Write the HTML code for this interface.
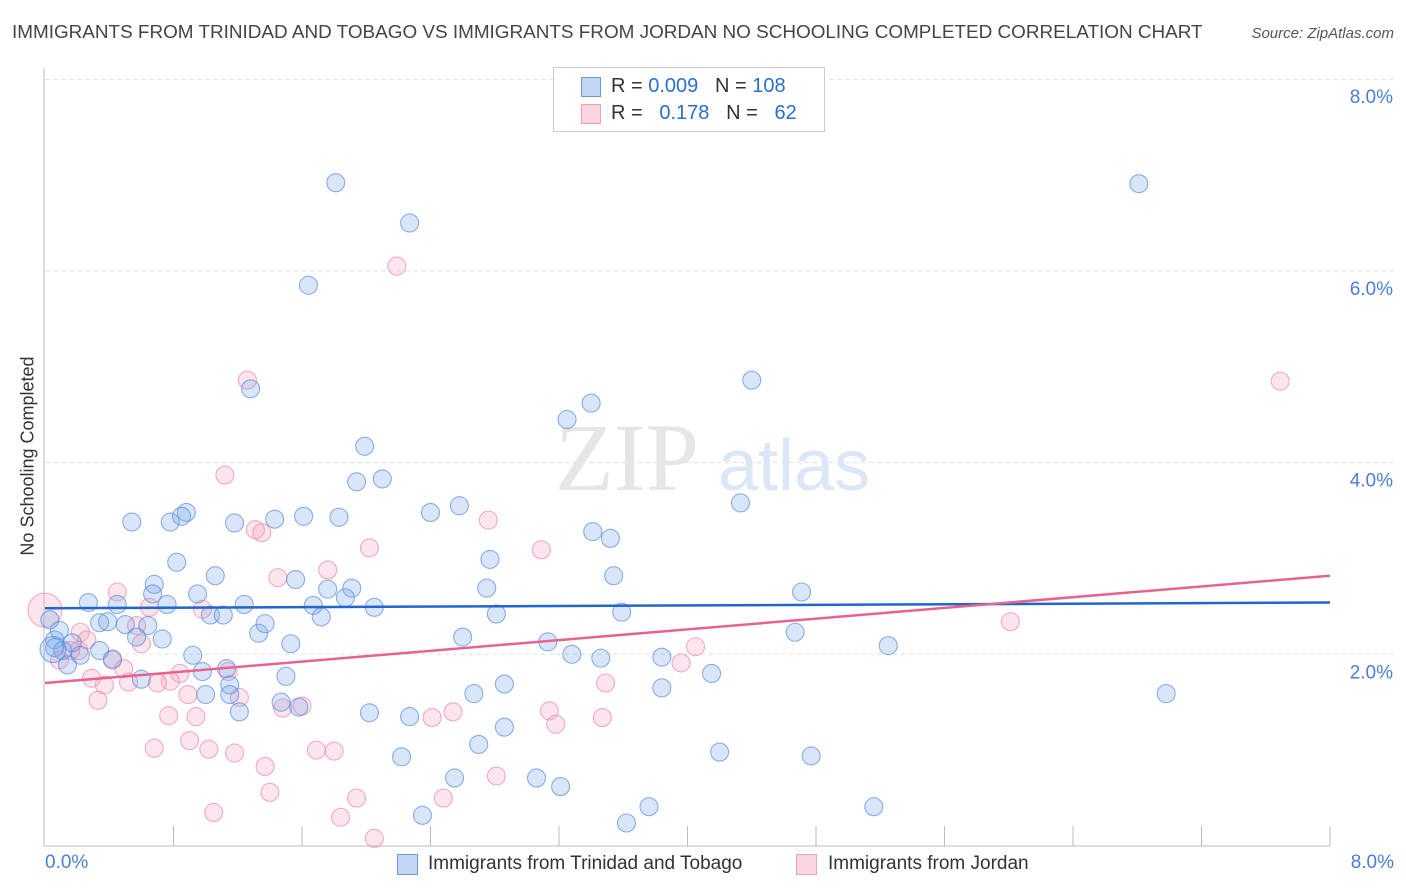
<!DOCTYPE html>
<html><head><meta charset="utf-8">
<style>
body{margin:0;background:#fff;font-family:"Liberation Sans",sans-serif;}
#wrap{position:relative;width:1406px;height:892px;overflow:hidden;}
.t{position:absolute;white-space:nowrap;}
</style></head>
<body>
<div id="wrap">
<div class="t" style="left:12px;top:22px;font-size:18.9px;color:#444;">IMMIGRANTS FROM TRINIDAD AND TOBAGO VS IMMIGRANTS FROM JORDAN NO SCHOOLING COMPLETED CORRELATION CHART</div>
<div class="t" style="right:12px;top:25px;font-size:15px;color:#555;font-style:italic;">Source: ZipAtlas.com</div>
<svg id="svg" width="1406" height="892" style="position:absolute;left:0;top:0"></svg>
</div>
<script>
const xTicks=[0,0.8,1.6,2.4,3.2,4,4.8,5.6,6.4,7.2,8];
const yTicks=[2,4,6,8];
const yTickLabels=["2.0%","4.0%","6.0%","8.0%"];
const blueX=[1.81,2.27,1.64,6.81,1.28,4.40,3.40,3.25,1.99,1.94,2.10,2.40,2.58,4.33,0.54,0.78,0.88,0.85,1.18,1.43,1.61,1.83,3.41,3.52,0.82,2.77,1.06,3.54,0.68,0.67,0.95,1.56,1.76,1.91,1.87,2.75,4.71,0.27,0.45,0.76,1.24,1.67,2.05,1.03,1.11,1.72,2.81,3.59,0.34,0.39,0.50,0.64,0.57,0.73,1.33,1.53,2.60,3.13,4.67,5.25,0.06,0.11,0.17,0.22,0.14,0.42,0.92,3.28,3.46,3.84,1.13,0.98,1.50,4.15,0.60,1.15,1.00,1.15,2.67,2.86,3.84,6.98,1.47,1.58,1.21,2.02,2.27,2.86,2.70,2.22,4.20,4.77,2.55,3.06,3.21,2.35,3.76,5.16,3.62,0.06,0.09,0.03,0.34,1.37,0.05];
const blueY=[6.92,6.50,5.85,6.91,4.77,4.86,4.62,4.45,4.17,3.80,3.83,3.48,3.55,3.58,3.38,3.38,3.48,3.44,3.37,3.41,3.44,3.43,3.28,3.21,2.96,2.99,2.82,2.82,2.73,2.63,2.63,2.78,2.68,2.69,2.59,2.69,2.65,2.54,2.52,2.52,2.52,2.51,2.49,2.41,2.41,2.39,2.42,2.44,2.33,2.34,2.31,2.30,2.18,2.16,2.22,2.11,2.18,2.13,2.23,2.09,2.15,2.04,2.12,1.99,1.89,1.95,1.99,2.00,1.96,1.97,1.85,1.82,1.77,1.80,1.74,1.68,1.58,1.58,1.59,1.69,1.65,1.59,1.50,1.45,1.40,1.39,1.35,1.24,1.06,0.93,0.98,0.94,0.71,0.71,0.62,0.32,0.41,0.41,0.24,2.07,2.25,2.36,2.04,2.32,2.05];
const pinkX=[2.19,1.26,7.69,1.12,2.76,1.31,1.35,2.02,3.09,1.45,1.76,0.45,0.65,0.98,6.01,0.00,0.22,0.57,0.26,0.60,0.21,0.42,4.05,3.96,0.49,0.84,0.29,0.78,1.14,0.70,0.37,0.52,0.89,1.21,3.49,0.33,0.77,0.94,1.48,1.60,2.41,2.54,3.14,3.47,3.18,0.90,0.68,1.02,1.18,1.69,1.80,1.37,2.81,1.40,1.94,2.48,1.05,1.84,2.05,0.09,0.16];
const pinkY=[6.05,4.86,4.85,3.87,3.40,3.30,3.27,3.11,3.09,2.80,2.88,2.65,2.49,2.47,2.34,2.46,2.23,2.30,2.15,2.11,2.04,1.94,2.08,1.91,1.85,1.80,1.75,1.72,1.82,1.70,1.68,1.71,1.58,1.55,1.70,1.52,1.36,1.35,1.44,1.46,1.34,1.40,1.41,1.34,1.27,1.10,1.02,1.01,0.97,1.00,0.99,0.83,0.73,0.56,0.50,0.50,0.35,0.30,0.08,1.94,2.04];
const blueTrend=[2.48,2.54];
const pinkTrend=[1.70,2.82];

const X0=45,X1=1330,Y0=846,YPER=95.85;
const sx=v=>X0+(X1-X0)*v/8;
const sy=v=>Y0-v*YPER;
const svg=document.getElementById('svg');
const NS='http://www.w3.org/2000/svg';
function mk(tag,attrs){const e=document.createElementNS(NS,tag);for(const k in attrs)e.setAttribute(k,attrs[k]);svg.appendChild(e);return e;}

yTicks.forEach((t,i)=>{
  const l=mk('line',{x1:45,x2:1395,y1:sy(t),y2:sy(t),stroke:'#ddd','stroke-dasharray':'4,4'});
  
  
  const tx=mk('text',{x:1393,y:sy(t)+24,'text-anchor':'end','font-size':19,fill:'#4a7fd4','font-family':'Liberation Sans'});
  tx.textContent=yTickLabels[i];
  
  
});
const ax=mk('line',{x1:44,x2:44,y1:68,y2:846,stroke:'#bbb'});


const bx=mk('line',{x1:44,x2:1330,y1:846,y2:846,stroke:'#bbb'});


xTicks.slice(1).forEach(t=>{
  const l=mk('line',{x1:sx(t),x2:sx(t),y1:826,y2:846,stroke:'#bbb'});
  
  
});
const wm=mk('text',{x:555,y:490,'font-size':96,fill:'#e6e6e6','font-family':'Liberation Serif'});
wm.textContent='ZIP';


const wm2=mk('text',{x:718,y:490,'font-size':72,fill:'#dbe6f6','font-family':'Liberation Sans'});
wm2.textContent='atlas';



pinkX.forEach((v,i)=>{
  const c=mk('circle',{cx:sx(v),cy:sy(pinkY[i]),r:i===15?17:9,fill:'rgba(244,160,185,0.28)',stroke:'rgba(236,130,165,0.65)','stroke-width':1.1});
  
  
});
blueX.forEach((v,i)=>{
  const c=mk('circle',{cx:sx(v),cy:sy(blueY[i]),r:i===blueX.length-1?13:9,fill:'rgba(120,165,235,0.28)',stroke:'rgba(80,135,220,0.65)','stroke-width':1.1});
  
  
});
const bl=mk('line',{x1:sx(0),x2:sx(8),y1:sy(blueTrend[0]),y2:sy(blueTrend[1]),stroke:'#2266cc','stroke-width':2.5});


const pl=mk('line',{x1:sx(0),x2:sx(8),y1:sy(pinkTrend[0]),y2:sy(pinkTrend[1]),stroke:'#e8628e','stroke-width':2.5});


</script>
<div class="t" style="left:28px;top:456px;font-size:18px;color:#333;transform:translate(-50%,-50%) rotate(-90deg);">No Schooling Completed</div>
<div class="t" style="left:45px;top:852px;font-size:19px;color:#4a7fd4;">0.0%</div>
<div class="t" style="right:12px;top:852px;font-size:19px;color:#4a7fd4;">8.0%</div>
<div style="position:absolute;left:553px;top:67px;width:270px;height:63px;border:1px solid #ccc;background:#fff;font-size:20px;color:#333;">
 <div style="position:absolute;left:27px;top:9px;width:18px;height:18px;background:rgba(120,165,235,0.45);border:1px solid #6a9ae0;"></div>
 <div class="t" style="left:57px;top:7px;">R = <span style="color:#2a6ed0">0.009</span>&nbsp;&nbsp;&nbsp;N = <span style="color:#2a6ed0">108</span></div>
 <div style="position:absolute;left:27px;top:36px;width:18px;height:18px;background:rgba(244,160,185,0.45);border:1px solid #f0a0b8;"></div>
 <div class="t" style="left:57px;top:34px;">R = &nbsp;&nbsp;<span style="color:#2a6ed0">0.178</span>&nbsp;&nbsp;&nbsp;N = &nbsp;&nbsp;<span style="color:#2a6ed0">62</span></div>
</div>
<div>
 <div style="position:absolute;left:397px;top:854px;width:19px;height:19px;background:rgba(120,165,235,0.45);border:1px solid #6a9ae0;"></div>
 <div class="t" style="left:428px;top:853px;font-size:19px;color:#333;">Immigrants from Trinidad and Tobago</div>
 <div style="position:absolute;left:796px;top:854px;width:19px;height:19px;background:rgba(244,160,185,0.45);border:1px solid #f0a0b8;"></div>
 <div class="t" style="left:828px;top:853px;font-size:19px;color:#333;">Immigrants from Jordan</div>
</div>
</body></html>
